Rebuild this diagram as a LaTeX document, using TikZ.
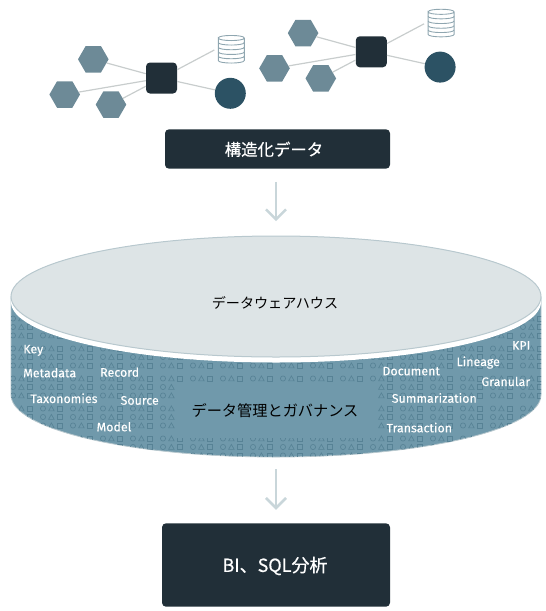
\documentclass[tikz,border=0pt]{standalone}
\usepackage{fontspec}
\setmainfont{Fira Sans}
\newfontfamily\jpfont{Noto Sans CJK JP}
\newfontfamily\jpheavy[FakeBold=0.5]{Noto Sans CJK JP}
\newfontfamily\tagfont[FakeBold=0.15,LetterSpace=0.6]{Fira Sans}
\usetikzlibrary{shapes.geometric,arrows.meta}
\definecolor{darkbox}{HTML}{212F38}
\definecolor{hexcol}{HTML}{6D8A97}
\definecolor{circcol}{HTML}{2C5264}
\definecolor{bodycol}{HTML}{7099AB}
\definecolor{patcol}{HTML}{578295}
\definecolor{topcol}{HTML}{DDE4E6}
\definecolor{topedge}{HTML}{B8C8CE}
\definecolor{linkcol}{HTML}{C8CDCD}
\definecolor{flowcol}{HTML}{C9D6DA}
\definecolor{dbcol}{HTML}{8FA6B0}
\tikzset{
  hexnode/.style={regular polygon,regular polygon sides=6,fill=hexcol,inner sep=0pt,minimum size=30.6pt},
  hubnode/.style={rectangle,rounded corners=4pt,fill=darkbox,inner sep=0pt,minimum size=31pt},
  circnode/.style={circle,fill=circcol,inner sep=0pt,minimum size=31pt},
  link/.style={draw=linkcol,line width=1.2pt},
  flow/.style={draw=flowcol,line width=2.6pt,-{Straight Barb[length=10pt,width=20pt,line width=2.6pt]}},
  panel/.style={rectangle,rounded corners=4pt,fill=darkbox,inner sep=0pt},
  panellabel/.style={text=white,inner sep=0pt},
  blacklabel/.style={text=black,inner sep=0pt},
  tag/.style={text=white,anchor=base,inner sep=0pt,font=\tagfont\fontsize{12.3}{14}\selectfont},
  sym/.style={draw=patcol,line width=0.65pt},
  dbline/.style={draw=dbcol,line width=0.9pt},
}
\begin{document}
\begin{tikzpicture}[x=1pt,y=-1pt]
\useasboundingbox (0,0) rectangle (546,611);
% network icons
\foreach \g/\dx/\dy in {l/0/0,r/209.8/-26.2}{
  \begin{scope}[shift={(\dx,\dy)}]
    \node[hexnode] (\g a) at (93.3,59.3) {};
    \node[hexnode] (\g b) at (64.7,94.5) {};
    \node[hexnode] (\g c) at (111,104.6) {};
    \node[hubnode] (\g hub) at (161.5,78) {};
    \node[circnode] (\g circ) at (230.3,93.3) {};
    \coordinate (\g dbend) at (214.3,50);
    \draw[link] (\g a) -- (\g hub);
    \draw[link] (\g b) -- (\g hub);
    \draw[link] (\g c) -- (\g hub);
    \draw[link] (\g hub) -- (\g dbend);
    \draw[link] (\g hub) -- (\g circ);
    % database stack
    \draw[dbline] (218.3,38) .. controls (218.3,34.6) and (244.3,34.6) .. (244.3,38)
      .. controls (244.3,41.4) and (218.3,41.4) .. (218.3,38) -- (218.3,60.5)
      .. controls (218.3,63.9) and (244.3,63.9) .. (244.3,60.5) -- (244.3,38);
    \foreach \yy in {42.5,47.2,51.9,56.2}{
      \draw[dbline] (218.3,\yy) .. controls (218.3,\yy+3.4) and (244.3,\yy+3.4) .. (244.3,\yy);
    }
  \end{scope}
}
% top label
\node[panel,minimum width=225pt,minimum height=39.4pt] (sbox) at (277.5,149) {};
\node[panellabel,font=\jpheavy\fontsize{16.4}{18}\selectfont] (slabel) at (274,149.3) {構造化データ};
% cylinder body
\coordinate (cylbase) at (276,457);
\path[fill=bodycol,draw=topedge,line width=0.8pt] (11,297) -- (11,395)
  .. controls (11,429.2) and (129.6,457) .. (276,457)
  .. controls (422.4,457) and (541,429.2) .. (541,395) -- (541,297) -- cycle;
\begin{scope}
  \clip (11,297) -- (11,395)
  .. controls (11,429.2) and (129.6,457) .. (276,457)
  .. controls (422.4,457) and (541,429.2) .. (541,395) -- (541,297) -- cycle;
  \foreach \ry in {318.5,327,335.5,348.5,357,365.5,378.5,387,395.5,408.5,417,425.5,438.5,447,455.5}{
    \foreach \k in {0,...,17}{
      \pgfmathsetmacro{\cx}{13+30*\k}
      \draw[sym] (\cx,\ry) circle[radius=2.6];
      \draw[sym] (\cx+5.6,\ry+2.4) -- (\cx+8.4,\ry-2.6) -- (\cx+11.2,\ry+2.4) -- cycle;
      \draw[sym] (\cx+14.6,\ry-2.4) rectangle (\cx+19.4,\ry+2.4);
    }
  }
  \fill[bodycol] (175,383) rectangle (376.5,438);
\end{scope}
% top of cylinder
\node[ellipse,fill=white,inner sep=0pt,minimum width=530pt,minimum height=121pt] (rim) at (276,302) {};
\node[ellipse,fill=topcol,draw=topedge,line width=1pt,inner sep=0pt,minimum width=530pt,minimum height=121pt] (top) at (276,296.5) {};
\node[blacklabel,font=\jpfont\fontsize{14.1}{16}\selectfont] (wh) at (275,302.6) {データウェアハウス};
\node[blacklabel,font=\jpfont\fontsize{15.2}{17}\selectfont] (gov) at (275,410.7) {データ管理とガバナンス};
% tags
\node[tag] (t1) at (33.3,353.3) {Key};
\node[tag] (t2) at (49.7,377.3) {Metadata};
\node[tag] (t3) at (119.7,376.7) {Record};
\node[tag] (t4) at (64,403) {Taxonomies};
\node[tag] (t5) at (139.7,404.7) {Source};
\node[tag] (t6) at (114,431.3) {Model};
\node[tag] (t7) at (521.2,349.7) {KPI};
\node[tag] (t8) at (478.2,366) {Lineage};
\node[tag] (t9) at (411.2,375.3) {Document};
\node[tag] (t10) at (505.8,386) {Granular};
\node[tag] (t11) at (434.3,402.7) {Summarization};
\node[tag] (t12) at (419.3,432.3) {Transaction};
% bottom box
\node[panel,minimum width=228pt,minimum height=83.4pt] (bbox) at (276,565) {};
\node[panellabel,font=\jpheavy\fontsize{18}{20}\selectfont] (blabel) at (275,566) {BI、SQL分析};
% arrows
\draw[flow,shorten <=13pt,shorten >=14.3pt] (top |- sbox.south) -- (top.north);
\draw[flow,shorten <=12.3pt,shorten >=13.3pt] (cylbase) -- (bbox.north);
\end{tikzpicture}
\end{document}
